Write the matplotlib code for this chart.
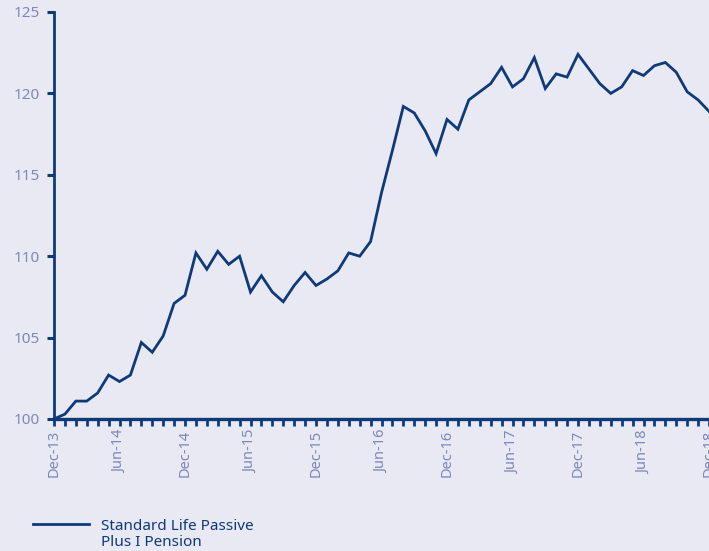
import matplotlib.pyplot as plt
import numpy as np

# monthly values, Dec-13 .. Dec-18 (rebased to 100)
valores = [100.0, 100.3, 101.1, 101.1, 101.6, 102.7, 102.3, 102.7, 104.7, 104.1,
           105.1, 107.1, 107.6, 110.2, 109.2, 110.3, 109.5, 110.0, 107.8, 108.8,
           107.8, 107.2, 108.2, 109.0, 108.2, 108.6, 109.1, 110.2, 110.0, 110.9,
           113.9, 116.5, 119.2, 118.8, 117.7, 116.3, 118.4, 117.8, 119.6, 120.1,
           120.6, 121.6, 120.4, 120.9, 122.2, 120.3, 121.2, 121.0, 122.4, 121.5,
           120.6, 120.0, 120.4, 121.4, 121.1, 121.7, 121.9, 121.3, 120.1, 119.6,
           118.9]
rotulos = ['Dec-13', 'Jun-14', 'Dec-14', 'Jun-15', 'Dec-15', 'Jun-16',
           'Dec-16', 'Jun-17', 'Dec-17', 'Jun-18', 'Dec-18']
nome = 'Standard Life Passive\nPlus I Pension'

meses = np.arange(len(valores))

azul = '#0E3A7A'
cinza = '#7D87BC'
fundo = '#E8E9F2'

plt.rcParams['font.family'] = ['Noto Sans', 'DejaVu Sans']

fig = plt.figure(figsize=(7.09, 5.51), dpi=100, facecolor=fundo)
ax = fig.add_axes([54/709, 132/551, 1 - 54/709, 407/551])
ax.set_facecolor(fundo)

ax.plot(meses, valores, color=azul, linewidth=2.0, label=nome, solid_joinstyle='miter')

ax.set_xlim(0, 60)
ax.set_ylim(100, 125)
ax.set_yticks([100, 105, 110, 115, 120, 125])
ax.set_xticks(meses, minor=True)
ax.set_xticks(np.arange(0, 61, 6))
ax.set_xticklabels(rotulos, rotation=90)

for s in ['top', 'right']:
    ax.spines[s].set_visible(False)
ax.spines['left'].set_color(azul)
ax.spines['left'].set_linewidth(2)
ax.spines['bottom'].set_color(azul)
ax.spines['bottom'].set_linewidth(2.4)

ax.tick_params(axis='y', colors=azul, labelcolor=cinza, length=5, width=2.2,
               labelsize=11, pad=5)
ax.tick_params(axis='x', which='both', colors=azul, labelcolor=cinza, length=5,
               width=2, labelsize=10.5, pad=3)

leg = fig.legend(loc='upper left', bbox_to_anchor=(19/709, 1 - 505/551), frameon=False,
                 fontsize=11, handlelength=3.66, handletextpad=0.78, labelcolor=azul)
for t in leg.get_texts():
    t.set_linespacing(1.12)
# handle next to the first line of the label
leg._legend_handle_box.get_children()[0].get_children()[0].align = 'top'

fig.savefig('out.png', dpi=100, facecolor=fundo)
